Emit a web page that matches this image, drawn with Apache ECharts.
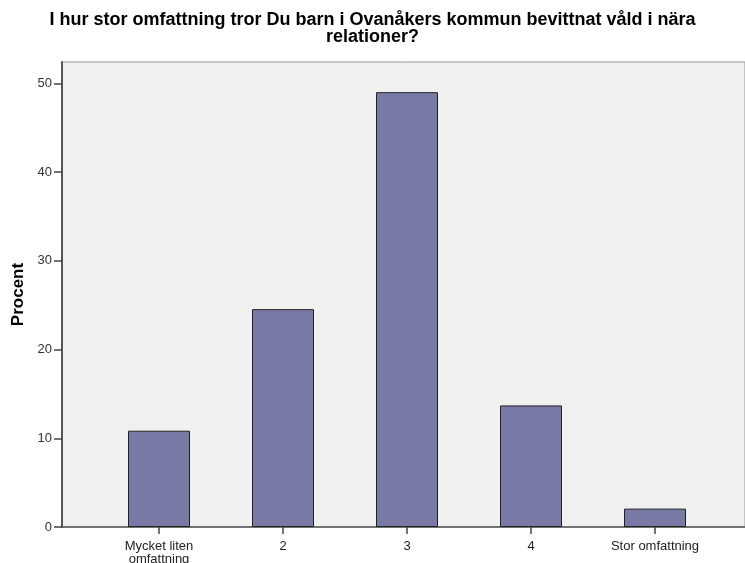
<!DOCTYPE html>
<html>
<head>
<meta charset="utf-8">
<script src="https://cdn.jsdelivr.net/npm/echarts@6/dist/echarts.min.js"></script>
<style>
html,body{margin:0;padding:0;background:#fff;}
#chart{width:745px;height:563px;}
</style>
</head>
<body>
<div id="chart"></div>
<script>
var titleText = 'I hur stor omfattning tror Du barn i Ovanåkers kommun bevittnat våld i nära\nrelationer?';
var yAxisName = 'Procent';
var categories = ['Mycket liten\nomfattning', '2', '3', '4', 'Stor omfattning'];
var percentValues = [10.85, 24.55, 49.0, 13.7, 2.07];
var yTicks = [0, 10, 20, 30, 40, 50];
var yMin = 0, yMax = 52.4;

var chart = echarts.init(document.getElementById('chart'), null, {renderer: 'canvas'});
var font = 'Liberation Sans, Arial, sans-serif';
chart.setOption({
  animation: false,
  backgroundColor: '#ffffff',
  title: {
    text: titleText,
    left: 'center',
    top: 7,
    textStyle: {fontFamily: font, fontWeight: 'bold', fontSize: 18, color: '#000', lineHeight: 17}
  },
  grid: [
    {left: 62, top: 62, right: 0, bottom: 36, show: true, backgroundColor: '#f0f0f0', borderColor: '#9a9a9a', borderWidth: 1, outerBoundsMode: 'none', containLabel: false},
    {left: 97, top: 62, right: 28, bottom: 36, outerBoundsMode: 'none', containLabel: false}
  ],
  xAxis: [
    {gridIndex: 0, type: 'value', min: 0, max: 1, show: true,
     axisLine: {show: true, onZero: false, lineStyle: {color: '#555', width: 1.5}},
     axisTick: {show: false}, axisLabel: {show: false}, splitLine: {show: false}},
    {gridIndex: 1, type: 'category', data: categories,
     axisLine: {show: false},
     axisTick: {show: true, alignWithLabel: true, length: 7, lineStyle: {color: '#444', width: 1.5}},
     axisLabel: {fontFamily: font, fontSize: 13, color: '#222', margin: 13, lineHeight: 13, interval: 0},
     splitLine: {show: false}}
  ],
  yAxis: [
    {gridIndex: 0, type: 'value', min: yMin, max: yMax, interval: 10,
     name: yAxisName, nameLocation: 'middle', nameGap: 35, nameRotate: 90,
     nameTextStyle: {fontFamily: font, fontWeight: 'bold', fontSize: 17, color: '#000'},
     axisLine: {show: true, lineStyle: {color: '#555', width: 2}},
     axisTick: {show: true, length: 8, customValues: yTicks, lineStyle: {color: '#444', width: 1.5}},
     axisLabel: {fontFamily: font, fontSize: 13, color: '#333', margin: 10, customValues: yTicks},
     splitLine: {show: false}},
    {gridIndex: 1, type: 'value', min: yMin, max: yMax, show: false}
  ],
  series: [{
    type: 'bar',
    xAxisIndex: 1, yAxisIndex: 1,
    data: percentValues,
    barWidth: '50%',
    itemStyle: {color: '#7979a6', borderColor: '#222', borderWidth: 1}
  }]
});
</script>
</body>
</html>
